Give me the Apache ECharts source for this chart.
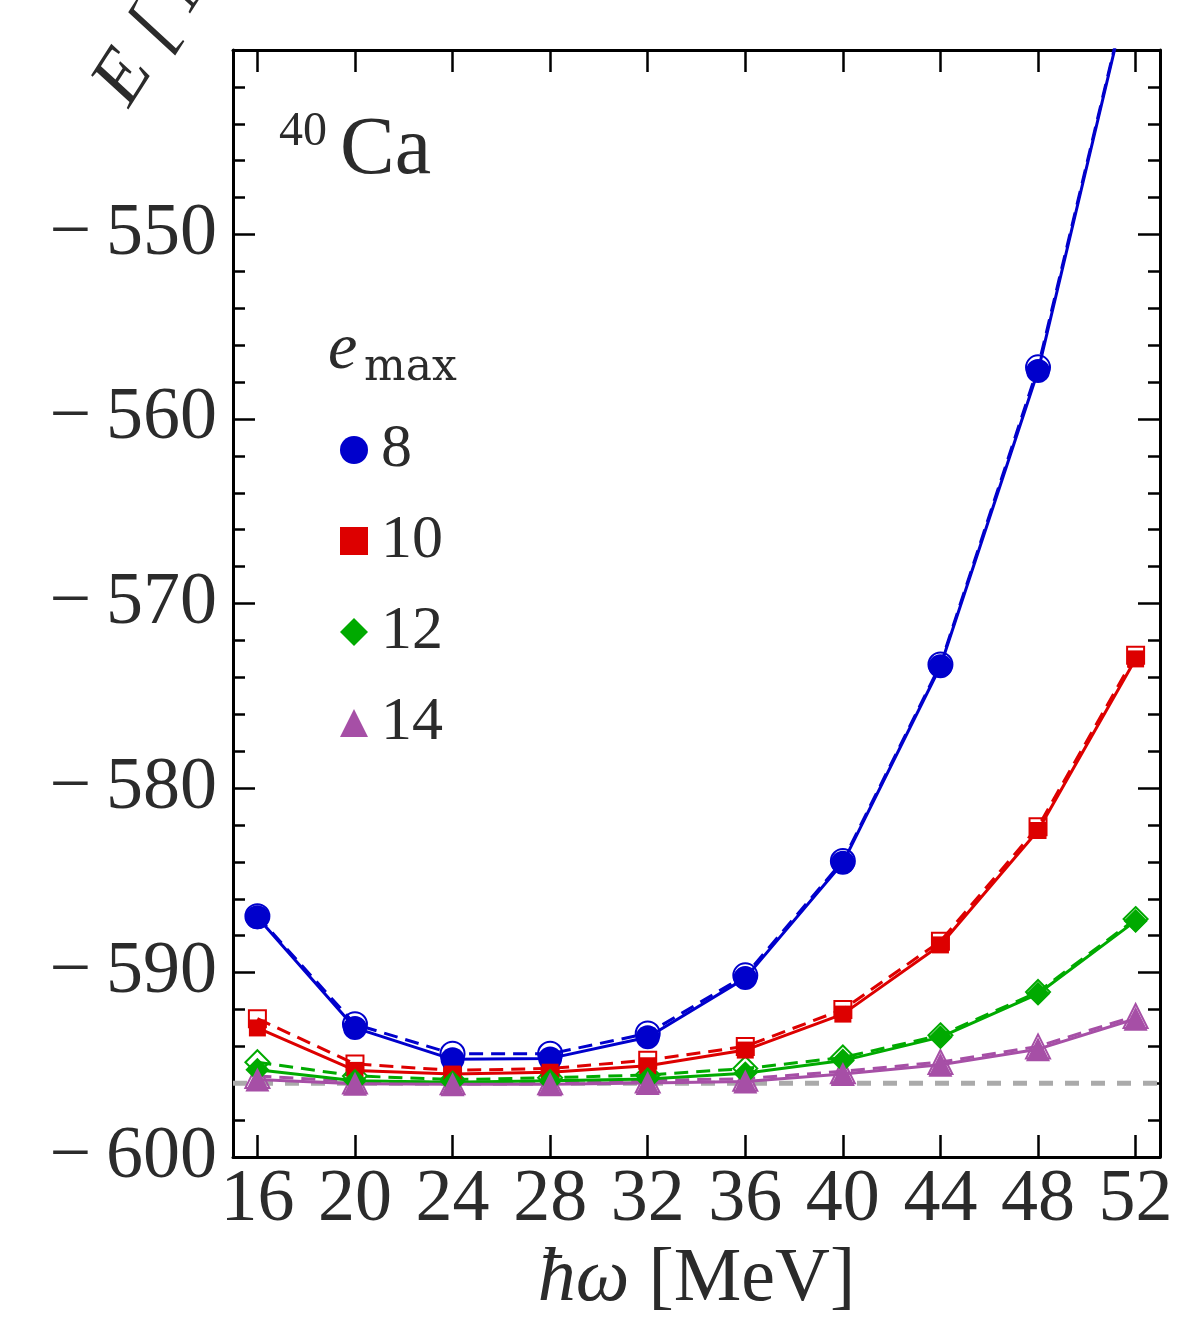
<!DOCTYPE html>
<html>
<head>
<meta charset="utf-8">
<script src="https://cdn.jsdelivr.net/npm/echarts@6/dist/echarts.min.js"></script>
<style>html,body{margin:0;padding:0;background:#fff}#c{width:1200px;height:1323px}</style>
</head>
<body>
<div id="c"></div>
<script>
// hbar*omega values [MeV]
const hw = [16, 20, 24, 28, 32, 36, 40, 44, 48, 52];
const xTicks = [16, 20, 24, 28, 32, 36, 40, 44, 48, 52];
const yLabels = [-600, -590, -580, -570, -560, -550];
// e_max = 8
const e8Solid  = [-587.0, -593.0, -594.7, -594.65, -593.5, -590.3, -584.05, -573.4, -557.4, -535.2];
const e8Dash   = [-586.95, -592.8, -594.4, -594.4, -593.3, -590.15, -583.95, -573.3, -557.2, -535.1];
// e_max = 10
const e10Solid = [-593.0, -595.3, -595.5, -595.4, -595.05, -594.2, -592.25, -588.5, -582.3, -573.0];
const e10Dash  = [-592.5, -594.95, -595.3, -595.2, -594.75, -594.0, -592.0, -588.3, -582.1, -572.8];
// e_max = 12
const e12Solid = [-595.27, -595.86, -595.95, -595.86, -595.77, -595.46, -594.77, -593.5, -591.15, -587.2];
const e12Dash  = [-594.86, -595.6, -595.8, -595.7, -595.55, -595.2, -594.6, -593.4, -591.05, -587.1];
// e_max = 14
const e14Solid = [-595.8, -596.03, -596.05, -596.05, -595.98, -595.9, -595.5, -595.0, -594.15, -592.5];
const e14Dash  = [-595.6, -595.9, -595.95, -595.95, -595.85, -595.75, -595.35, -594.85, -594.0, -592.35];
// extrapolated reference
const refX = [15, 53];
const refY = [-596.0, -596.0];

const SERIF = '"Liberation Serif","DejaVu Serif",serif';
const TXT = '#2b2b2b';

const colors = {b: '#0000cc', r: '#dd0000', g: '#00aa00', p: '#a64fa6'};

function pairs(xs, ys){ return xs.map((x,i)=>[x, ys[i]]); }

function solid(name, ys, color, symbol, size, z){
  return {
    name: name, type: 'line', data: pairs(hw, ys), symbol: symbol, symbolSize: size,
    lineStyle: {color: color, width: 3}, itemStyle: {color: color},
    z: z, animation: false, emphasis: {disabled: true}
  };
}
function dashed(ys, color, symbol, size, z){
  return {
    name: '_d', type: 'line', data: pairs(hw, ys), symbol: symbol, symbolSize: size,
    lineStyle: {color: color, width: 3, type: [14, 8]},
    itemStyle: {color: 'rgba(255,255,255,0)', borderColor: color, borderWidth: 2},
    z: z, animation: false, emphasis: {disabled: true}
  };
}

const chart = echarts.init(document.getElementById('c'), null, {renderer: 'canvas'});

const axisLine = {show: true, onZero: false, lineStyle: {color: '#000', width: 3}};

chart.setOption({
  animation: false,
  backgroundColor: '#fff',
  grid: {left: 233, top: 50, right: 40, bottom: 163},
  xAxis: [
    {
      type: 'value', min: 15, max: 53, position: 'bottom',
      axisLine: axisLine,
      axisTick: {show: true, inside: true, length: 22, customValues: xTicks, lineStyle: {color: '#000', width: 2.5}},
      axisLabel: {show: true, customValues: xTicks, fontSize: 74, fontFamily: SERIF, color: TXT, margin: 6},
      splitLine: {show: false},
      name: '{i|ħω}{r| [MeV]}',
      nameLocation: 'middle', nameGap: 82,
      nameTextStyle: {
        rich: {
          i: {fontSize: 76, fontFamily: SERIF, fontStyle: 'italic', color: TXT},
          r: {fontSize: 76, fontFamily: SERIF, color: TXT}
        }
      }
    },
    {
      type: 'value', min: 15, max: 53, position: 'top',
      axisLine: axisLine,
      axisTick: {show: true, inside: true, length: 22, customValues: xTicks, lineStyle: {color: '#000', width: 2.5}},
      axisLabel: {show: false},
      splitLine: {show: false}
    }
  ],
  yAxis: [
    {
      type: 'value', min: -600, max: -540, interval: 10, position: 'left',
      axisLine: axisLine,
      axisTick: {show: true, inside: true, length: 22, lineStyle: {color: '#000', width: 2.5}},
      minorTick: {show: true, splitNumber: 5, length: 12, lineStyle: {color: '#000', width: 2.5}},
      axisLabel: {
        show: true, customValues: yLabels, fontSize: 74, fontFamily: SERIF, color: TXT, margin: 16,
        formatter: v => '\u2212\u2009' + Math.abs(v)
      },
      splitLine: {show: false}
    },
    {
      type: 'value', min: -600, max: -540, interval: 10, position: 'right',
      axisLine: axisLine,
      axisTick: {show: true, inside: true, length: 22, lineStyle: {color: '#000', width: 2.5}},
      minorTick: {show: true, splitNumber: 5, length: 12, lineStyle: {color: '#000', width: 2.5}},
      axisLabel: {show: false},
      splitLine: {show: false}
    }
  ],
  legend: {
    orient: 'vertical', left: 335, top: 414,
    itemWidth: 28, itemHeight: 28, itemGap: 29,
    selectedMode: false,
    textStyle: {fontSize: 62, fontFamily: SERIF, color: TXT, lineHeight: 60, padding: [0, 0, 0, 8]},
    data: [
      {name: '8', icon: 'circle'},
      {name: '10', icon: 'rect'},
      {name: '12', icon: 'diamond'},
      {name: '14', icon: 'triangle'}
    ]
  },
  series: [
    {
      name: '_ref', type: 'line', data: pairs(refX, refY), symbol: 'none',
      lineStyle: {color: '#aaaaaa', width: 5, type: [14, 12]}, z: 1, animation: false
    },
    dashed(e8Dash, colors.b, 'circle', 24, 2),
    dashed(e10Dash, colors.r, 'rect', 17, 2),
    dashed(e12Dash, colors.g, 'diamond', 24, 2),
    dashed(e14Dash, colors.p, 'triangle', 24, 2),
    solid('8', e8Solid, colors.b, 'circle', 24, 3),
    solid('10', e10Solid, colors.r, 'rect', 17, 3),
    solid('12', e12Solid, colors.g, 'diamond', 24, 3),
    solid('14', e14Solid, colors.p, 'triangle', 24, 3)
  ],
  graphic: [
    {
      type: 'text', left: 279, top: 108, z: 10,
      style: {text: '40', fontSize: 48, fontFamily: SERIF, fill: TXT}
    },
    {
      type: 'text', left: 340, top: 110, z: 10,
      style: {text: 'Ca', fontSize: 82, fontFamily: SERIF, fill: TXT}
    },
    {
      type: 'text', left: 328, top: 318, z: 10,
      style: {text: 'e', fontSize: 66, fontFamily: SERIF, fontStyle: 'italic', fill: TXT}
    },
    {
      type: 'text', left: 364, top: 347, z: 10,
      style: {text: 'max', fontSize: 44, fontFamily: '"DejaVu Serif",serif', fill: TXT}
    },
    {
      type: 'text', x: 112, y: 98, rotation: 1.0, z: 10,
      style: {text: 'E [ MeV ]', fontSize: 76, fontFamily: SERIF, fontStyle: 'italic', fill: TXT,
              align: 'left', verticalAlign: 'middle'}
    }
  ]
});
</script>
</body>
</html>
